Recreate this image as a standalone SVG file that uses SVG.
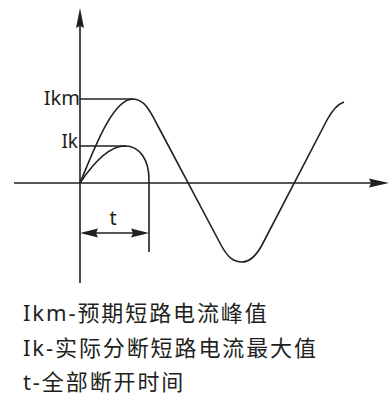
<svg xmlns="http://www.w3.org/2000/svg" width="391" height="398" viewBox="0 0 391 398">
<style>
.ln{fill:none;stroke:#231f20;stroke-width:1.6;stroke-linejoin:round;stroke-linecap:butt}
.ah{fill:#231f20;stroke:none}
.lbl{font-family:"Noto Sans","Noto Sans CJK SC",sans-serif;fill:#231f20}
.cap{font-family:"Noto Sans","Noto Sans CJK SC",sans-serif;font-size:22px;letter-spacing:1.9px;fill:#231f20}
</style>
<rect width="391" height="398" fill="#ffffff"/>
<g id="axes">
<line class="ln" x1="80" y1="24" x2="80" y2="283"/>
<polygon class="ah" points="80,8 84,28 80,26 76,28"/>
<line class="ln" x1="14" y1="183" x2="373" y2="183"/>
<polygon class="ah" points="389,183 369,187.5 371,183 369,178.5"/>
</g>
<g id="levels">
<line class="ln" x1="80" y1="99" x2="133" y2="99"/>
<line class="ln" x1="80" y1="146" x2="126" y2="146"/>
</g>
<g id="curves">
<path id="ikm-curve" class="ln" d="M80,183 C93,152 112,99 133,99 C145,99 151,113 159,128 L221,245 C228,258 234,262 242,262 C250,262 256,256 262,245 L327,120 C333,109 338,104 344,102"/>
<path id="ik-curve" class="ln" d="M80,183 C92,165 108,146 125,146 C140,146 149,160 149,180 L149,252"/>
</g>
<g id="dimension">
<line class="ln" x1="92" y1="233" x2="137" y2="233"/>
<polygon class="ah" points="80,233 98,228.5 96,233 98,237.5"/>
<polygon class="ah" points="149,233 131,228.5 133,233 131,237.5"/>
</g>
<g id="labels">
<text class="lbl" x="80" y="105" font-size="20" text-anchor="end">Ikm</text>
<text class="lbl" x="78" y="148" font-size="19" text-anchor="end">Ik</text>
<text class="lbl" x="113" y="225" font-size="20" text-anchor="middle">t</text>
</g>
<g id="legend">
<text class="cap" x="23" y="321">Ikm-预期短路电流峰值</text>
<text class="cap" x="23" y="356">Ik-实际分断短路电流最大值</text>
<text class="cap" x="23" y="390">t-全部断开时间</text>
</g>
</svg>
